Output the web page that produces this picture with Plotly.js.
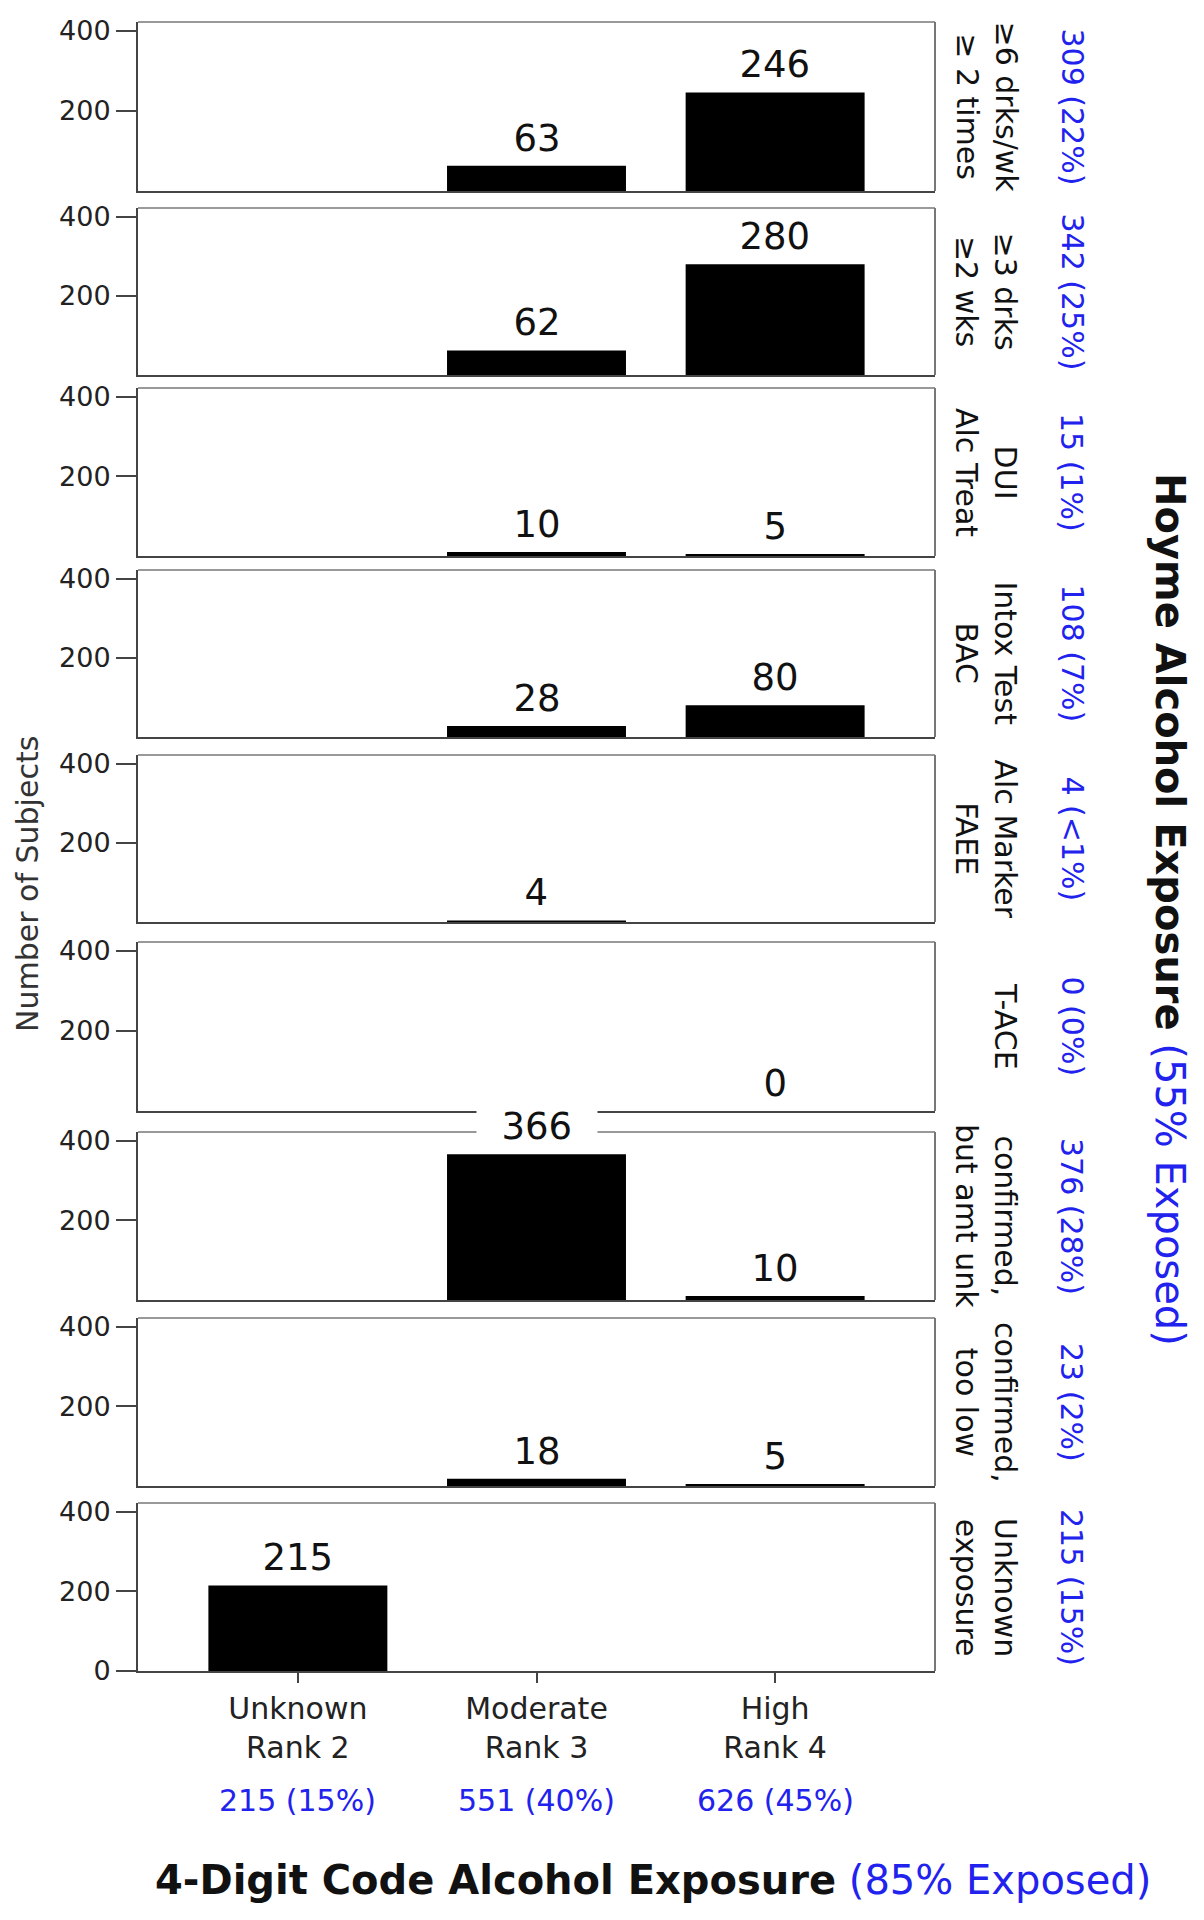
<!DOCTYPE html>
<html><head><meta charset="utf-8">
<script src="https://cdn.plot.ly/plotly-3.0.1.min.js"></script>
<style>html,body{margin:0;padding:0;background:#fff}</style>
</head><body><div id="chart" style="width:1204px;height:1920px"></div>
<script>
// ---- data ----
const categories = ['Unknown', 'Moderate', 'High'];
const rankLabels = ['Rank 2', 'Rank 3', 'Rank 4'];
const codeCounts = ['215 (15%)', '551 (40%)', '626 (45%)'];
const hoymeCriteria = ['≥6 drks/wk<br>≥ 2 times', '≥3 drks<br>≥2 wks', 'DUI<br>Alc Treat', 'Intox Test<br>BAC',
  'Alc Marker<br>FAEE', 'T-ACE', 'confirmed,<br>but amt unk', 'confirmed,<br>too low', 'Unknown<br>exposure'];
const hoymeCounts = ['309 (22%)', '342 (25%)', '15 (1%)', '108 (7%)', '4 (&lt;1%)', '0 (0%)', '376 (28%)', '23 (2%)', '215 (15%)'];
const valDrinksPerWeek = [null, 63, 246];
const valDrinksTwoWeeks = [null, 62, 280];
const valDuiTreat = [null, 10, 5];
const valIntoxBac = [null, 28, 80];
const valMarkerFaee = [null, 4, null];
const valTace = [null, null, 0];
const valConfirmedUnk = [null, 366, 10];
const valConfirmedLow = [null, 18, 5];
const valUnknownExposure = [215, null, null];
const panelValues = [valDrinksPerWeek, valDrinksTwoWeeks, valDuiTreat, valIntoxBac, valMarkerFaee,
  valTace, valConfirmedUnk, valConfirmedLow, valUnknownExposure];
const yTickVals = [200, 400];
const yTickValsBottom = [0, 200, 400];

// ---- layout constants (pixel geometry) ----
const H = 1920, W = 1204;
const ML = 138, MR = 269;
const PW = W - ML - MR;
const panelTops = [22, 208, 388, 570, 755, 942, 1132, 1318, 1503];
const panelBottoms = [191, 375, 556, 737, 922, 1111, 1300, 1486, 1671];
const FONT = 'DejaVu Sans, Verdana, sans-serif';
const BLUE = '#2222ee';
const px2x = p => (p - ML) / PW;
const px2y = p => 1 - p / H;
const NB = '\u00a0\u00a0';

const data = [];
const layout = {
  width: W, height: H,
  margin: {l: ML, r: MR, t: 0, b: 0},
  paper_bgcolor: '#fff', plot_bgcolor: '#fff',
  showlegend: false,
  font: {family: FONT, color: '#222'},
  annotations: [],
  shapes: []
};

panelValues.forEach((vals, i) => {
  const n = i + 1;
  const sfx = n === 1 ? '' : String(n);
  const top = panelTops[i], bot = panelBottoms[i];
  const isBottom = i === panelValues.length - 1;
  data.push({
    type: 'bar', x: categories, y: vals, xaxis: 'x' + sfx, yaxis: 'y' + sfx,
    marker: {color: '#000', line: {width: 0}}, width: 0.75, hoverinfo: 'skip'
  });
  layout['xaxis' + sfx] = {
    domain: [0, 1], anchor: 'y' + sfx, type: 'category',
    range: [-0.67, 2.67], showgrid: false, zeroline: false,
    showline: true, mirror: false, linecolor: '#444', linewidth: 2,
    ticks: isBottom ? 'outside' : '', ticklen: 10, tickwidth: 2, tickcolor: '#444',
    showticklabels: isBottom,
    tickvals: categories,
    ticktext: categories.map((c, k) => c + '<br>' + rankLabels[k]),
    tickfont: {family: FONT, size: 30, color: '#222'},
    ticklabelstandoff: 0,
    fixedrange: true
  };
  layout['yaxis' + sfx] = {
    domain: [px2y(bot), px2y(top)], anchor: 'x' + sfx,
    range: [0, 422], showgrid: false, zeroline: false,
    showline: true, mirror: false, linecolor: '#444', linewidth: 2,
    ticks: 'outside', ticklen: 20, tickwidth: 2, tickcolor: '#444',
    tickvals: isBottom ? yTickValsBottom : yTickVals,
    tickfont: {family: FONT, size: 27, color: '#222'},
    fixedrange: true
  };
  // lighter top and right frame lines
  layout.shapes.push({type: 'line', xref: 'x' + sfx + ' domain', yref: 'y' + sfx + ' domain',
    x0: 0, x1: 1, y0: 1, y1: 1, line: {color: '#999', width: 2}});
  layout.shapes.push({type: 'line', xref: 'x' + sfx + ' domain', yref: 'y' + sfx + ' domain',
    x0: 1, x1: 1, y0: 0, y1: 1, line: {color: '#777', width: 2}});
  // bar value labels
  vals.forEach((v, k) => {
    if (v === null) return;
    layout.annotations.push({
      xref: 'x' + sfx, yref: 'y' + sfx, x: categories[k], y: v,
      text: NB + String(v) + NB, showarrow: false, yanchor: 'bottom', xanchor: 'center',
      yshift: 4, bgcolor: '#fff', borderpad: 1,
      font: {family: FONT, size: 37, color: '#111'}
    });
  });
  // right side criterion label
  layout.annotations.push({
    xref: 'paper', yref: 'paper', x: px2x(1025), y: px2y((top + bot) / 2),
    text: hoymeCriteria[i], showarrow: false, textangle: 90,
    xanchor: 'right', yanchor: 'middle', align: 'center',
    font: {family: FONT, size: 30, color: '#111'}
  });
  layout.annotations.push({
    xref: 'paper', yref: 'paper', x: px2x(1072), y: px2y((top + bot) / 2),
    text: hoymeCounts[i], showarrow: false, textangle: 90,
    xanchor: 'center', yanchor: 'middle',
    font: {family: FONT, size: 30, color: BLUE}
  });
});

// bottom blue counts
categories.forEach((c, k) => {
  layout.annotations.push({
    xref: 'x9', yref: 'paper', x: c, y: px2y(1800),
    text: codeCounts[k], showarrow: false, xanchor: 'center', yanchor: 'middle',
    font: {family: FONT, size: 30, color: BLUE}
  });
});

// titles
layout.annotations.push({
  xref: 'paper', yref: 'paper', x: px2x(653), y: px2y(1880),
  text: '<b>4-Digit Code Alcohol Exposure</b> <span style="color:' + BLUE + '">(85% Exposed)</span>',
  showarrow: false, xanchor: 'center', yanchor: 'middle',
  font: {family: FONT, size: 40, color: '#111'}
});
layout.annotations.push({
  xref: 'paper', yref: 'paper', x: px2x(1170), y: px2y(909),
  text: '<b>Hoyme Alcohol Exposure</b> <span style="color:' + BLUE + '">(55% Exposed)</span>',
  showarrow: false, textangle: 90, xanchor: 'center', yanchor: 'middle',
  font: {family: FONT, size: 40, color: '#111'}
});
layout.annotations.push({
  xref: 'paper', yref: 'paper', x: px2x(27), y: px2y(884),
  text: 'Number of Subjects', showarrow: false, textangle: -90,
  xanchor: 'center', yanchor: 'middle',
  font: {family: FONT, size: 30, color: '#333'}
});

Plotly.newPlot('chart', data, layout, {displayModeBar: false, staticPlot: true});
</script></body></html>
